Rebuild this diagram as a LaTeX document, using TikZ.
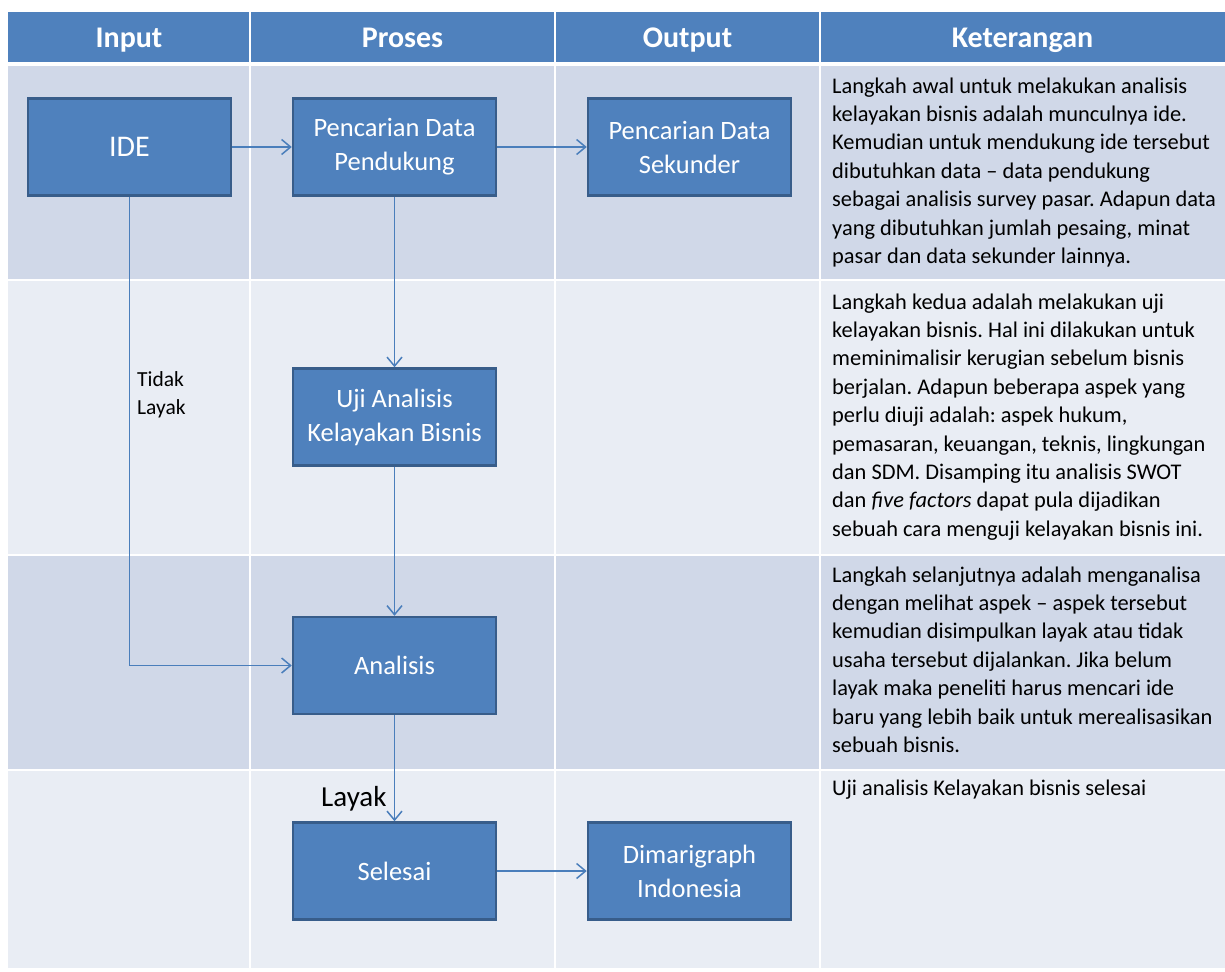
\documentclass[tikz,border=0pt]{standalone}
\usepackage{fontspec}
\setmainfont{Carlito}
\usetikzlibrary{arrows.meta}
\definecolor{hdr}{HTML}{4F81BD}
\definecolor{rowdark}{HTML}{D0D8E8}
\definecolor{rowlight}{HTML}{E9EDF4}
\definecolor{boxfill}{HTML}{4F81BD}
\definecolor{boxline}{HTML}{385D8A}
\definecolor{arr}{HTML}{4A7EBB}
\frenchspacing
\begin{document}
\begin{tikzpicture}[x=1pt,y=-1pt,
 flowbox/.style={draw=boxline, line width=2.5pt, fill=boxfill, minimum width=203pt, minimum height=97pt, inner sep=0pt, text=white, align=center, font=\fontsize{26.5}{34}\selectfont},
 conn/.style={draw=arr, line width=1.5pt, -{Straight Barb[length=9pt,width=15pt,line width=1.5pt]}},
 hdrtext/.style={text=white, font=\fontsize{30}{36}\selectfont\bfseries, anchor=base, inner sep=0pt},
 note/.style={anchor=north west, inner sep=0pt, align=left, font=\fontsize{22.4}{28.4}\selectfont},
 sidelabel/.style={anchor=north west, inner sep=0pt, align=left, font=\fontsize{21.5}{28}\selectfont},
 sep/.style={draw=white, line width=2.5pt}
]
\useasboundingbox (0,0) rectangle (1225,971);
\fill[white] (0,0) rectangle (1225,971);
% table
\fill[hdr] (8,12) rectangle (1225,62);
\fill[rowdark] (8,66.5) rectangle (1225,278.5);
\fill[rowlight] (8,280.5) rectangle (1225,554);
\fill[rowdark] (8,556) rectangle (1225,768.5);
\fill[rowlight] (8,770.5) rectangle (1225,968);
\draw[sep] (250,12) -- (250,968);
\draw[sep] (555,12) -- (555,968);
\draw[sep] (820,12) -- (820,968);
% headers
\node[hdrtext] (hin) at (129,47.5) {Input};
\node[hdrtext] (hpr) at (402.5,47.5) {Proses};
\node[hdrtext] (hout) at (687.5,47.5) {Output};
\node[hdrtext] (hket) at (1022.5,47.5) {Keterangan};
% boxes
\node[flowbox, font=\fontsize{30}{36}\selectfont] (ide) at (129.5,147) {IDE};
\node[flowbox] (pend) at (394.5,147) {Pencarian Data\\Pendukung};
\node[flowbox] (sek) at (689.5,147) {Pencarian Data\\Sekunder};
\node[flowbox] (uji) at (394.5,417) {Uji Analisis\\Kelayakan Bisnis};
\node[flowbox] (anl) at (394.5,665.5) {Analisis};
\node[flowbox] (sel) at (394.5,871) {Selesai};
\node[flowbox] (dim) at (689.5,871) {Dimarigraph\\Indonesia};
% connectors
\draw[conn] (ide.east) -- (pend.west);
\draw[conn] (pend.east) -- (sek.west);
\draw[conn] (pend.south) -- (uji.north);
\draw[conn] (uji.south) -- (anl.north);
\draw[conn] (ide.south) |- (anl.west);
\draw[conn] (anl.south) -- (sel.north);
\draw[conn] (sel.east) -- (dim.west);
% labels
\node[sidelabel] (tidak) at (137,366.5) {\strut Tidak\\Layak};
\node[anchor=base west, inner sep=0pt, font=\fontsize{29}{34}\selectfont] (layak) at (321,806) {Layak};
% notes
\node[note] (k1) at (832,73) {\strut Langkah awal untuk melakukan analisis\\
kelayakan bisnis adalah munculnya ide.\\
Kemudian untuk mendukung ide tersebut\\
dibutuhkan data – data pendukung\\
sebagai analisis survey pasar. Adapun data\\
yang dibutuhkan jumlah pesaing, minat\\
pasar dan data sekunder lainnya.};
\node[note] (k2) at (832,289) {\strut Langkah kedua adalah melakukan uji\\
kelayakan bisnis. Hal ini dilakukan untuk\\
meminimalisir kerugian sebelum bisnis\\
berjalan. Adapun beberapa aspek yang\\
perlu diuji adalah: aspek hukum,\\
pemasaran, keuangan, teknis, lingkungan\\
dan SDM. Disamping itu analisis SWOT\\
dan \textit{five factors} dapat pula dijadikan\\
sebuah cara menguji kelayakan bisnis ini.};
\node[note] (k3) at (832,562) {\strut Langkah selanjutnya adalah menganalisa\\
dengan melihat aspek – aspek tersebut\\
kemudian disimpulkan layak atau tidak\\
usaha tersebut dijalankan. Jika belum\\
layak maka peneliti harus mencari ide\\
baru yang lebih baik untuk merealisasikan\\
sebuah bisnis.};
\node[note] (k4) at (832,775) {\strut Uji analisis Kelayakan bisnis selesai};
\end{tikzpicture}
\end{document}
